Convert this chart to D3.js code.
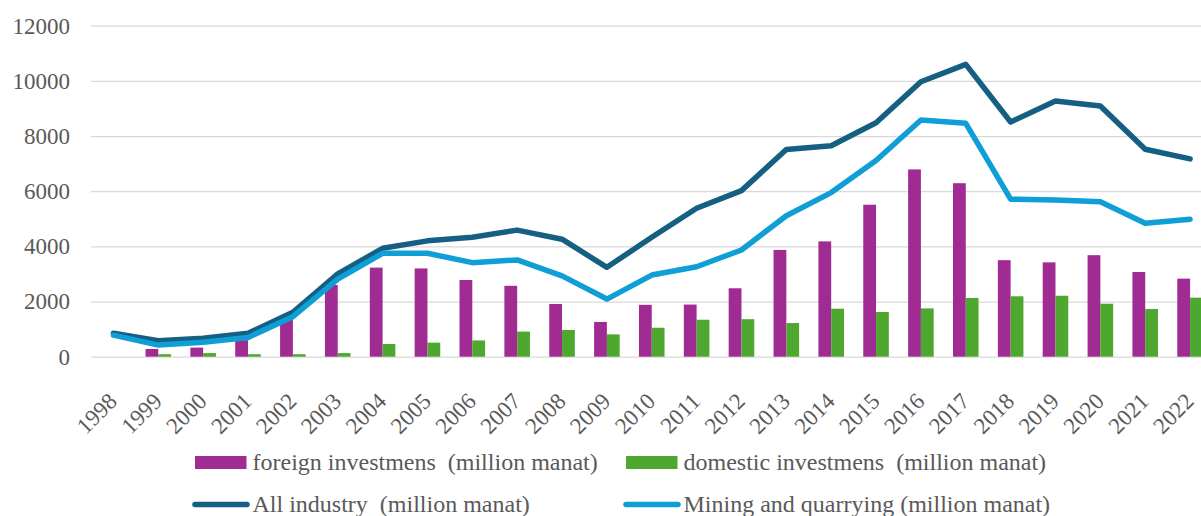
<!DOCTYPE html>
<html>
<head>
<meta charset="utf-8">
<script src="https://cdn.jsdelivr.net/npm/d3@7"></script>
<style>
  html, body { margin: 0; padding: 0; background: #fff; }
  #container { width: 1201px; height: 516px; overflow: hidden; }
  svg { display: block; }
  svg, svg text { font-family: 'Liberation Serif', 'Times New Roman', serif !important; }
</style>
</head>
<body>
<div id="container"></div>
<script>
// 数据：年份与四个序列（百万马纳特）
const years = ["1998", "1999", "2000", "2001", "2002", "2003", "2004", "2005", "2006", "2007",
  "2008", "2009", "2010", "2011", "2012", "2013", "2014", "2015", "2016", "2017",
  "2018", "2019", "2020", "2021", "2022"];

const foreignInvest = [0, 280, 330, 600, 1350, 2600, 3230, 3200, 2780, 2570,
  1910, 1260, 1880, 1890, 2480, 3870, 4180, 5510, 6790, 6290,
  3500, 3420, 3680, 3070, 2830];

const domesticInvest = [0, 90, 130, 90, 90, 130, 460, 510, 590, 910,
  970, 810, 1050, 1340, 1360, 1220, 1740, 1620, 1750, 2130,
  2190, 2210, 1920, 1730, 2140];

const allIndustry = [850, 580, 670, 850, 1610, 3000, 3930, 4200, 4330, 4590,
  4260, 3240, 4330, 5380, 6020, 7510, 7650, 8480, 9970, 10600,
  8510, 9270, 9090, 7520, 7170];

const mining = [780, 420, 520, 700, 1450, 2810, 3750, 3750, 3410, 3510,
  2930, 2090, 2960, 3260, 3870, 5110, 5950, 7110, 8580, 8460,
  5710, 5680, 5620, 4840, 4980];

const yTicks = [0, 2000, 4000, 6000, 8000, 10000, 12000];

const barSeries = [
  { key: "foreign", name: "foreign investmens  (million manat)", values: foreignInvest, color: "#A02B93" },
  { key: "domestic", name: "domestic investmens  (million manat)", values: domesticInvest, color: "#4EA72E" }
];
const lineSeries = [
  { key: "all", name: "All industry  (million manat)", values: allIndustry, color: "#156082" },
  { key: "mining", name: "Mining and quarrying (million manat)", values: mining, color: "#0F9ED5" }
];

// 尺寸
const width = 1201;
const height = 516;
const plotLeft = 91;
const step = 44.86;
const plotRight = plotLeft + step * years.length; // 超出画布右侧，被裁剪
const plotTop = 25.7;
const plotBottom = 356.7;
const textColor = "#595959";
const fontFamily = "'Liberation Serif', 'Times New Roman', serif";

const svg = d3.select("#container")
  .append("svg")
  .attr("width", width)
  .attr("height", height)
  .attr("viewBox", [0, 0, width, height])
  .attr("font-family", fontFamily);

// 比例尺
const x = d3.scaleBand()
  .domain(years)
  .range([plotLeft, plotRight])
  .paddingInner(0.43)
  .paddingOuter(0.215);

const x1 = d3.scaleBand()
  .domain(barSeries.map(s => s.key))
  .range([0, x.bandwidth()]);

const y = d3.scaleLinear()
  .domain([0, 12000])
  .range([plotBottom, plotTop]);

// 网格线与纵轴
svg.append("g")
  .attr("transform", `translate(${plotLeft},0)`)
  .call(d3.axisLeft(y).tickValues(yTicks).tickSize(0).tickPadding(21).tickFormat(d3.format("d")))
  .attr("font-family", fontFamily)
  .attr("font-size", 23)
  .call(g => g.select(".domain").remove())
  .call(g => g.selectAll(".tick line").clone()
    .attr("x2", width - plotLeft)
    .attr("stroke", "#d9d9d9")
    .attr("stroke-width", 1.3))
  .call(g => g.selectAll(".tick text")
    .style("font-family", fontFamily, "important")
    .attr("fill", textColor));

// 横轴标签（旋转 -45°）
svg.append("g")
  .attr("transform", `translate(0,${plotBottom})`)
  .call(d3.axisBottom(x).tickSize(0).tickPadding(0))
  .attr("font-family", fontFamily)
  .attr("font-size", 23)
  .call(g => g.select(".domain").remove())
  .call(g => g.selectAll(".tick text")
    .style("font-family", fontFamily, "important")
    .attr("fill", textColor)
    .attr("text-anchor", "end")
    .attr("dy", null)
    .attr("y", null)
    .attr("transform", "translate(5,46) rotate(-45)"));

// 柱子
const barData = years.map((yr, i) => barSeries.map(s => ({ year: yr, key: s.key, value: s.values[i], color: s.color })));

svg.append("g")
  .selectAll("g")
  .data(barData)
  .join("g")
  .attr("transform", d => `translate(${x(d[0].year)},0)`)
  .selectAll("rect")
  .data(d => d)
  .join("rect")
  .attr("x", d => x1(d.key))
  .attr("width", x1.bandwidth())
  .attr("y", d => y(d.value))
  .attr("height", d => y(0) - y(d.value))
  .attr("fill", d => d.color);

// 折线
const line = d3.line()
  .x((d, i) => x(years[i]) + x.bandwidth() / 2)
  .y(d => y(d));

svg.append("g")
  .selectAll("path")
  .data(lineSeries)
  .join("path")
  .attr("fill", "none")
  .attr("stroke", d => d.color)
  .attr("stroke-width", 5.5)
  .attr("stroke-linejoin", "round")
  .attr("stroke-linecap", "round")
  .attr("d", d => line(d.values));

// 图例
const legend = svg.append("g")
  .attr("font-family", fontFamily)
  .attr("font-size", 24)
  .attr("fill", textColor);

const legendRow1 = [{ x: 195, y: 462.5 }, { x: 626, y: 462.5 }];
const legendRow2 = [{ x: 195, y: 504.5 }, { x: 626, y: 504.5 }];

barSeries.forEach((s, i) => {
  const p = legendRow1[i];
  legend.append("rect")
    .attr("x", p.x)
    .attr("y", p.y - 6.5)
    .attr("width", 51.5)
    .attr("height", 13)
    .attr("fill", s.color);
  legend.append("text")
    .attr("x", p.x + 57.5)
    .attr("y", p.y + 7.5)
    .style("font-family", fontFamily, "important")
    .style("white-space", "pre")
    .text(s.name);
});

lineSeries.forEach((s, i) => {
  const p = legendRow2[i];
  legend.append("line")
    .attr("x1", p.x)
    .attr("x2", p.x + 52)
    .attr("y1", p.y)
    .attr("y2", p.y)
    .attr("stroke", s.color)
    .attr("stroke-width", 5.5)
    .attr("stroke-linecap", "round");
  legend.append("text")
    .attr("x", p.x + 57.5)
    .attr("y", p.y + 7.5)
    .style("font-family", fontFamily, "important")
    .style("white-space", "pre")
    .text(s.name);
});
</script>
</body>
</html>
